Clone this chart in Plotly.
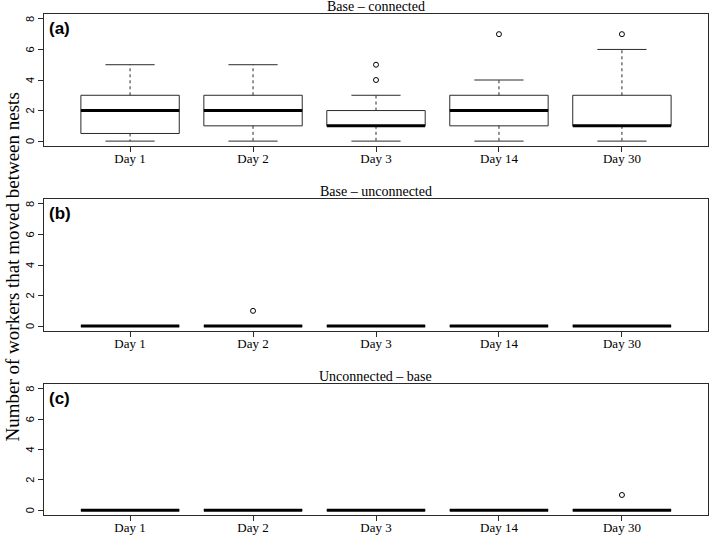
import plotly.graph_objects as go

days = ["Day 1", "Day 2", "Day 3", "Day 14", "Day 30"]
panel_titles = ["Base \u2013 connected", "Base \u2013 unconnected", "Unconnected \u2013 base"]
panel_tags = ["(a)", "(b)", "(c)"]
y_ticks = [0, 2, 4, 6, 8]

# Panel (a): Base - connected
a_min = [0, 0, 0, 0, 0]
a_q1 = [0.5, 1, 1, 1, 1]
a_med = [2, 2, 1, 2, 1]
a_q3 = [3, 3, 2, 3, 3]
a_max = [5, 5, 3, 4, 6]
a_out_day = ["Day 3", "Day 3", "Day 14", "Day 30"]
a_out_val = [4, 5, 7, 7]

# Panel (b): Base - unconnected
b_min = [0, 0, 0, 0, 0]
b_q1 = [0, 0, 0, 0, 0]
b_med = [0, 0, 0, 0, 0]
b_q3 = [0, 0, 0, 0, 0]
b_max = [0, 0, 0, 0, 0]
b_out_day = ["Day 2"]
b_out_val = [1]

# Panel (c): Unconnected - base
c_min = [0, 0, 0, 0, 0]
c_q1 = [0, 0, 0, 0, 0]
c_med = [0, 0, 0, 0, 0]
c_q3 = [0, 0, 0, 0, 0]
c_max = [0, 0, 0, 0, 0]
c_out_day = ["Day 30"]
c_out_val = [1]

panels = [
    (a_min, a_q1, a_med, a_q3, a_max, a_out_day, a_out_val),
    (b_min, b_q1, b_med, b_q3, b_max, b_out_day, b_out_val),
    (c_min, c_q1, c_med, c_q3, c_max, c_out_day, c_out_val),
]

W, H = 709, 535
left_px, right_px = 44, 708
tops = [14, 199, 384]
bots = [146, 331, 515]

HALF_BOX = 0.4
HALF_CAP = 0.2
LINE = "#2a2a2a"
SERIF = "Liberation Serif"
SANS = "Liberation Sans"

fig = go.Figure()
layout = dict(
    width=W, height=H, margin=dict(l=0, r=0, t=0, b=0, autoexpand=False),
    paper_bgcolor="white", plot_bgcolor="white", showlegend=False,
)
annotations = []

for p, (mn, q1, md, q3, mx, od, ov) in enumerate(panels):
    sfx = "" if p == 0 else str(p + 1)
    xr, yr = "x" + sfx, "y" + sfx
    pos = list(range(1, len(days) + 1))

    bx, by, mxs, mys, wx, wy, cx, cy = [], [], [], [], [], [], [], []
    for i, x in enumerate(pos):
        bx += [x - HALF_BOX, x + HALF_BOX, x + HALF_BOX, x - HALF_BOX, x - HALF_BOX, None]
        by += [q1[i], q1[i], q3[i], q3[i], q1[i], None]
        mxs += [x - HALF_BOX, x + HALF_BOX, None]
        mys += [md[i], md[i], None]
        wx += [x, x, None, x, x, None]
        wy += [q3[i], mx[i], None, q1[i], mn[i], None]
        cx += [x - HALF_CAP, x + HALF_CAP, None, x - HALF_CAP, x + HALF_CAP, None]
        cy += [mx[i], mx[i], None, mn[i], mn[i], None]

    fig.add_trace(go.Scatter(x=wx, y=wy, mode="lines", xaxis=xr, yaxis=yr,
                             line=dict(color=LINE, width=1, dash="3px,3px"), hoverinfo="skip"))
    fig.add_trace(go.Scatter(x=cx, y=cy, mode="lines", xaxis=xr, yaxis=yr,
                             line=dict(color=LINE, width=1), hoverinfo="skip"))
    fig.add_trace(go.Scatter(x=bx, y=by, mode="lines", xaxis=xr, yaxis=yr,
                             line=dict(color=LINE, width=1), hoverinfo="skip"))
    fig.add_trace(go.Scatter(x=mxs, y=mys, mode="lines", xaxis=xr, yaxis=yr,
                             line=dict(color="black", width=3), hoverinfo="skip"))
    ox = [days.index(d) + 1 for d in od]
    fig.add_trace(go.Scatter(x=ox, y=ov, mode="markers", xaxis=xr, yaxis=yr,
                             marker=dict(symbol="circle-open", size=5, color="black",
                                         line=dict(width=1))))

    ydom = [1 - bots[p] / H, 1 - tops[p] / H]
    layout["xaxis" + sfx] = dict(
        domain=[left_px / W, right_px / W], range=[0.3, 5.7], anchor=yr,
        tickvals=pos, ticktext=days, ticks="outside", ticklen=5, tickcolor=LINE,
        showline=True, mirror=True, linecolor=LINE, linewidth=1,
        showgrid=False, zeroline=False, fixedrange=True, automargin=False,
        ticklabelstandoff=-5,
        tickfont=dict(family=SERIF, size=13, color="black"),
    )
    layout["yaxis" + sfx] = dict(
        domain=ydom, range=[-0.32, 8.32], anchor=xr,
        tickvals=y_ticks, showticklabels=False,
        ticks="outside", ticklen=5, tickcolor=LINE,
        showline=True, mirror=True, linecolor=LINE, linewidth=1,
        showgrid=False, zeroline=False, fixedrange=True, automargin=False,
    )
    # y tick labels, rotated like R's default (parallel to the axis)
    for v in y_ticks:
        annotations.append(dict(
            text=str(v), xref="paper", yref=yr, x=30 / W, y=v,
            xanchor="center", yanchor="middle", textangle=-90, showarrow=False,
            font=dict(family=SANS, size=11, color="black"),
        ))
    annotations.append(dict(
        text=panel_titles[p], xref="paper", yref="paper",
        x=(left_px + right_px) / 2 / W, y=ydom[1], yanchor="bottom", xanchor="center",
        showarrow=False, font=dict(family=SERIF, size=14, color="black"), yshift=-2,
    ))
    annotations.append(dict(
        text="<b>" + panel_tags[p] + "</b>", xref="paper", yref="paper",
        x=(left_px + 3) / W, y=ydom[1], xanchor="left", yanchor="top",
        showarrow=False, font=dict(family=SANS, size=17, color="black"), yshift=-3,
    ))

annotations.append(dict(
    text="Number of workers that moved between nests", xref="paper", yref="paper",
    x=12 / W, y=0.5, xanchor="center", yanchor="middle", textangle=-90,
    showarrow=False, font=dict(family=SERIF, size=19, color="black"),
))
layout["annotations"] = annotations
fig.update_layout(**layout)
fig.write_html(
    "out.html",
    config={"displayModeBar": False},
    post_script="document.body.style.margin='0';document.body.style.padding='0';"
                "document.body.style.overflow='hidden';",
)
